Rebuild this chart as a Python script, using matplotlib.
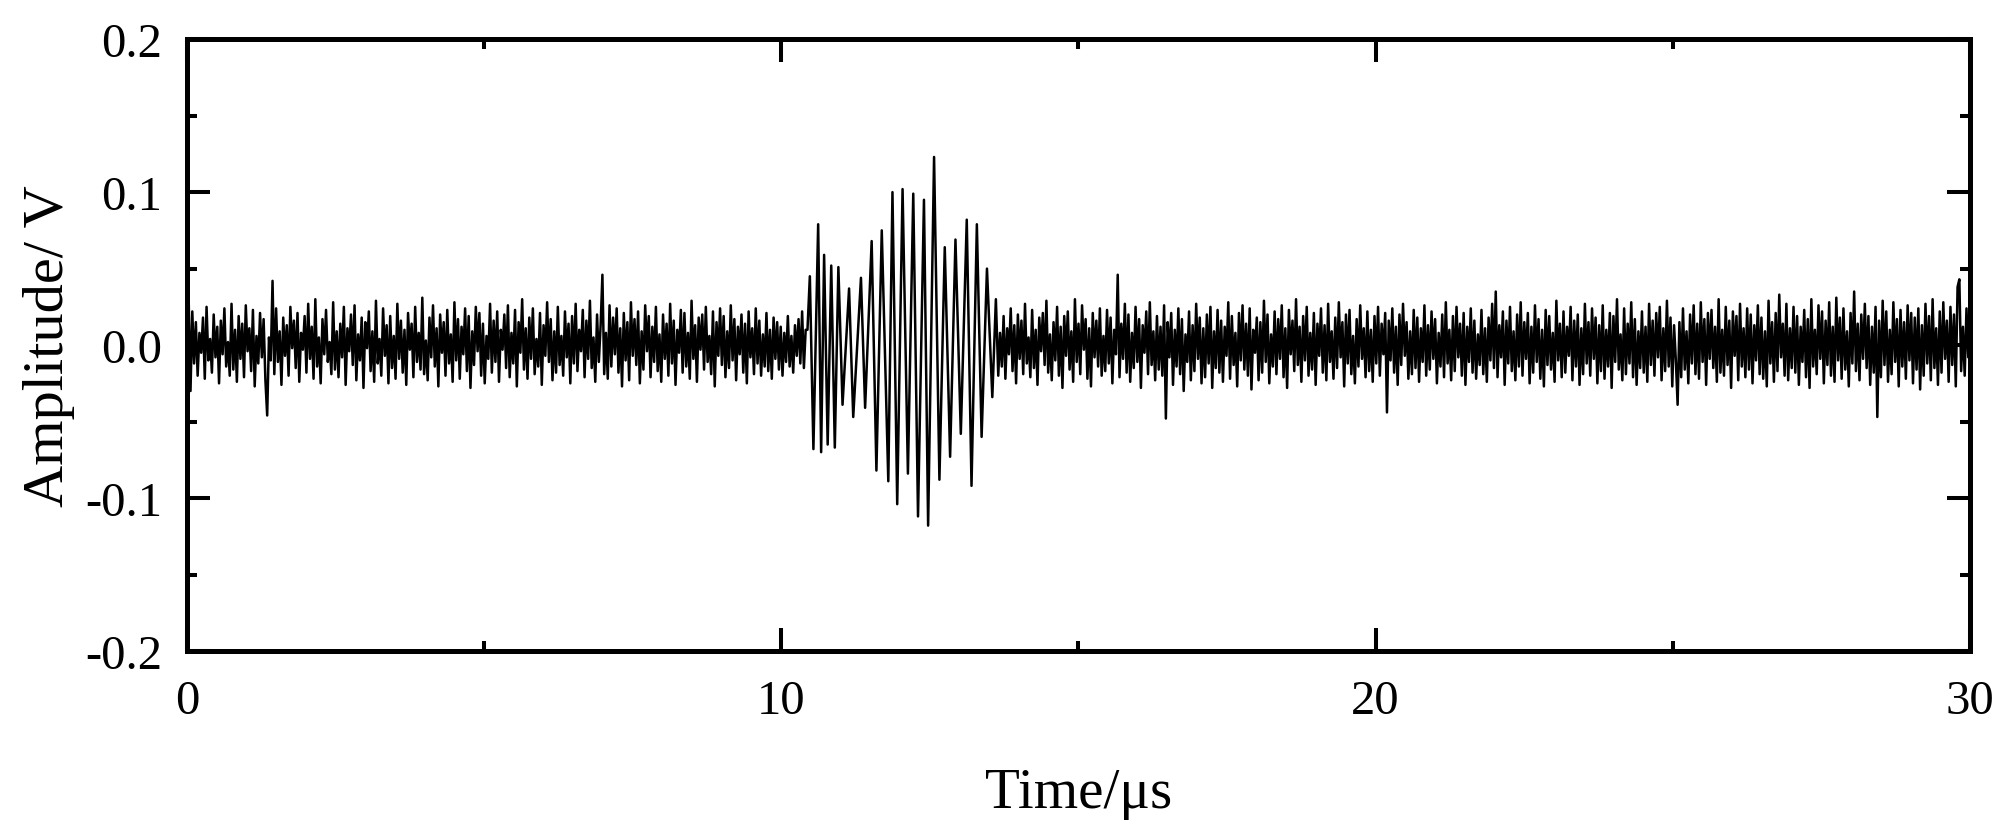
import numpy as np
import matplotlib
matplotlib.use("Agg")
import matplotlib.pyplot as plt
from matplotlib.ticker import MultipleLocator

plt.rcParams['font.family'] = ['Liberation Serif', 'DejaVu Serif']
plt.rcParams['axes.unicode_minus'] = False

# ---------------- data (mV for noise, V for burst) ----------------
dt = 0.03  # sampling step, µs

pre_noise_mv = [
    3, 28, -30, 22, -12, 15, -20, 8, -5, 18, -22, 25, -10, 4, -18, 20, -8, 12, -25, 16, -6, 24, -14, 2, -20, 27, -16, 10, -24, 19,
    -9, 14, -21, 26, -4, 11, -17, 23, -27, 6, -12, 21, -8, 17, -23, -46, 5, -10, 42, -19, 24, -11, 9, -26, 18, -7, 13, -20, 25, -2,
    16, -15, 21, -24, 8, -3, 19, -18, 27, -9, 12, -22, 30, -14, 5, -25, 17, -6, 23, -11, 2, -19, 28, -16, 9, -21, 14, -8, 25, -26,
    11, -4, 20, -13, 26, -23, 7, -10, 18, -28, 15, -2, 22, -17, 9, -24, 29, -12, 4, -20, 24, -7, 13, -25, 19, -15, 6, -22, 27, -9,
    16, -18, 10, -26, 21, -3, 14, -21, 25, -11, 8, -16, 31, -19, 3, -23, 18, -8, 26, -14, 11, -27, 20, -5, 15, -20, 23, -12, 7, -24,
    28, -10, 17, -22, 12, -6, 24, -17, 19, -28, 9, -13, 25, -4, 21, -20, 14, -25, 6, -9, 27, -18, 16, -11, 22, -24, 10, -3, 20, -15,
    26, -21, 8, -12, 23, -27, 15, -5, 30, -16, 11, -22, 18, -9, 24, -19, 4, -14, 21, -26, 13, -7, 28, -11, 17, -23, 9, -18, 25, -13,
    6, -20, 22, -8, 14, -25, 19, -12, 27, -17, 10, -4, 23, -21, 16, -9, 29, -15, 5, -24, 20, -11, 13, 46, -19, 8, -22, 26, -14, 18,
    -6, 24, -18, 11, -27, 21, -10, 15, -23, 28, -7, 17, -13, 22, -25, 9, -16, 26, -4, 19, -21, 12, -11, 25, -17, 7, -24, 20, -9, 14,
    -20, 27, -12, 16, -26, 10, -5, 23, -18, 21, -14, 8, -22, 29, -9, 13, -24, 18, -3, 20, -16, 25, -11, 6, -19, 22, -27, 15, -7, 24,
    -13, 19, -21, 9, -15, 26, -10, 17, -23, 12, -6, 20, -18, 14, -25, 22, -8, 11, -19, 24, -12, 16, -20, 7, -14, 21, -17, 10, -22, 18,
    -9, 15, -16, 12, -20, 8, -11, 19, -14, 6, -18, 13, -7, 17, -12, 22, -15, 10,
]

burst_t = [10.44, 10.48, 10.54, 10.62, 10.67, 10.72, 10.78, 10.84, 10.90, 10.96, 11.03,
           11.14, 11.21, 11.34, 11.41, 11.52, 11.60, 11.69, 11.80, 11.87, 11.95, 12.04,
           12.13, 12.22, 12.30, 12.40, 12.47, 12.57, 12.66, 12.75, 12.84, 12.93, 13.02,
           13.12, 13.20, 13.29, 13.37, 13.46, 13.55, 13.61, 13.65]
burst_v = [0.010, 0.045, -0.068, 0.079, -0.070, 0.059, -0.065, 0.052, -0.067, 0.051, -0.039,
           0.037, -0.047, 0.044, -0.041, 0.068, -0.082, 0.075, -0.089, 0.100, -0.104, 0.102,
           -0.084, 0.099, -0.112, 0.095, -0.118, 0.123, -0.088, 0.064, -0.073, 0.069, -0.058,
           0.082, -0.092, 0.079, -0.060, 0.050, -0.034, 0.030, -0.020]

post_start = 13.68
post_noise_mv = [
    8, -14, 19, -22, 11, -6, 24, -17, 13, -25, 20, -9, 16, -19, 27, -12, 5, -21, 23, -15, 10, -26, 18, -4, 21, -13, 29, -18, 7, -23,
    15, -10, 25, -20, 12, -28, 19, -7, 22, -16, 9, -24, 30, -11, 14, -19, 26, -3, 17, -22, 11, -27, 21, -8, 16, -14, 24, -20, 6, -17,
    23, -12, 18, -25, 10, -6, 46, -21, 14, -9, 27, -18, 20, -24, 8, -15, 25, -11, 17, -28, 13, -5, 22, -19, 28, -13, 9, -23, 19, -16,
    12, -20, 26, -48, 15, -8, 21, -26, 10, -14, 24, -19, 17, -30, 7, -11, 22, -23, 13, -17, 27, -9, 18, -25, 11, -21, 20, -12, 25, -28,
    9, -15, 23, -18, 16, -24, 12, -7, 28, -22, 19, -13, 8, -27, 21, -10, 26, -16, 14, -20, 24, -29, 10, -5, 18, -23, 15, -18, 29, -11,
    20, -25, 7, -14, 22, -19, 17, -9, 26, -21, 11, -28, 23, -6, 16, -17, 30, -13, 12, -24, 19, -10, 25, -20, 8, -16, 21, -26, 14, -7,
    24, -18, 13, -23, 27, -11, 9, -22, 18, -15, 28, -8, 15, -27, 20, -12, 23, -19, 6, -25, 17, -14, 26, -9, 11, -21, 22, -17, 10, -24,
    19, -12, 25, -20, 14, -6, 21, -44, 16, -10, 24, -18, 12, -26, 20, -13, 27, -7, 15, -22, 9, -19, 23, -15, 18, -24, 11, -11, 26, -20,
    13, -16, 22, -9, 17, -25, 8, -14, 20, -21, 28, -12, 10, -23, 19, -17, 25, -8, 14, -20, 21, -26, 12, -11, 24, -18, 16, -22, 7, -13,
    23, -19, 11, -24, 18, -10, 27, -15, 35, -21, 13, -8, 22, -26, 16, -12, 25, -17, 9, -23, 20, -14, 28, -20, 15, -9, 21, -25, 12, -18,
    26, -11, 17, -22, 10, -27, 23, -13, 19, -16, 8, -24, 29, -10, 14, -21, 22, -18, 12, -7, 25, -23, 16, -14, 20, -26, 11, -19, 27, -12,
    15, -20, 24, -9, 18, -25, 13, -17, 26, -22, 10, -14, 21, -28, 19, -11, 30, -16, 7, -23, 24, -19, 14, -12, 28, -21, 17, -26, 9, -15,
    22, -18, 12, -24, 27, -13, 16, -20, 21, -8, 25, -23, 11, -17, 29, -14, 18, -27, 13, -10, -39, 15, -21, 24, -16, 9, -25, 20, -12, 26,
    -19, 14, -22, 28, -11, 17, -26, 21, -9, 23, -15, 12, -24, 30, -18, 10, -20, 25, -13, 16, -28, 22, -7, 19, -23, 27, -14, 11, -21, 24,
    -16, 20, -25, 13, -10, 26, -19, 18, -22, 9, -27, 29, -12, 15, -24, 21, -17, 33, -8, 14, -20, 27, -23, 11, -15, 25, -18, 19, -26, 12,
    -11, 23, -21, 17, -28, 30, -14, 10, -19, 26, -9, 22, -25, 16, -13, 28, -20, 12, -24, 31, -10, 18, -22, 24, -16, 9, -27, 21, -12, 35,
    -17, 14, -23, 20, -9, 27, -15, 19, -26, 12, -18, 25, -47, 16, -21, 29, -13, 22, -24, 10, -19, 28, -11, 17, -27, 23, -14, 15, -22, 26,
    -10, 21, -25, 18, -16, 24, -29, 13, -20, 27, -12, 19, -23, 30, -15, 11, -26, 22, -18, 28, -9, 16, -24, 25, -13, 20, -27, 38, 43, -17,
    12, -20, 24, -8, 14,
]

x_ticks = [0, 10, 20, 30]
y_ticks = [-0.2, -0.1, 0.0, 0.1, 0.2]
x_label = "Time/\u03bcs"
y_label = "Amplitude/ V"

# ---------------- assemble series ----------------
pre_v = np.array(pre_noise_mv) / 1000.0
pre_t = np.arange(len(pre_v)) * dt
post_v = np.array(post_noise_mv) / 1000.0
post_t = post_start + np.arange(len(post_v)) * dt
t = np.concatenate([pre_t, np.array(burst_t), post_t])
v = np.concatenate([pre_v, np.array(burst_v), post_v])

# ---------------- figure ----------------
fig = plt.figure(figsize=(20.08, 8.37), dpi=100)
ax = fig.add_axes([0.0931, 0.221, 0.888, 0.731])
ax.plot(t, v, color='black', lw=1.8)

ax.set_xlim(0, 30)
ax.set_ylim(-0.2, 0.2)
ax.set_xticks(x_ticks)
ax.set_yticks(y_ticks)
ax.set_xticklabels([str(x) for x in x_ticks])
ax.set_yticklabels([f"{y:.1f}" for y in y_ticks])
ax.xaxis.set_minor_locator(MultipleLocator(5))
ax.yaxis.set_minor_locator(MultipleLocator(0.05))

for s in ax.spines.values():
    s.set_linewidth(3.6)
ax.tick_params(which='both', direction='in', top=True, right=True, width=2.9)
ax.tick_params(which='major', length=16.5, labelsize=35)
ax.tick_params(which='minor', length=7.5)
ax.tick_params(axis='x', which='major', pad=20)
ax.tick_params(axis='y', which='major', pad=18)

ax.set_xlabel(x_label, fontsize=41)
ax.set_ylabel(y_label, fontsize=42)
ax.xaxis.set_label_coords(0.5, -0.19)
ax.yaxis.set_label_coords(-0.063, 0.5)

fig.savefig("out.png", dpi=100, facecolor='white')
